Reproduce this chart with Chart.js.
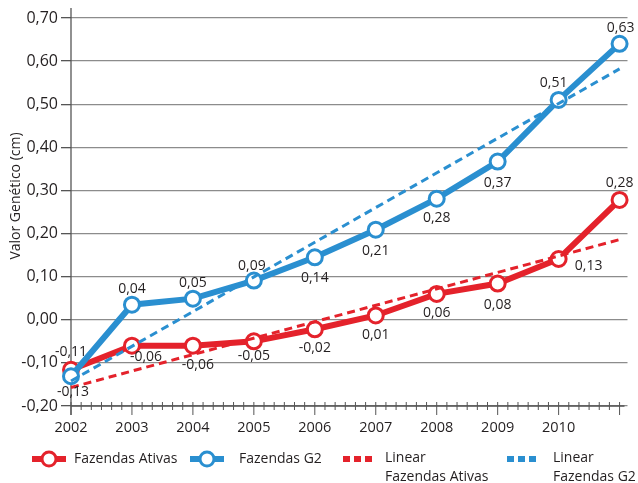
<!DOCTYPE html>
<html lang="pt">
<head>
<meta charset="utf-8">
<title>Valor Genético</title>
<script src="https://cdn.jsdelivr.net/npm/chart.js"></script>
<style>
  html, body { margin: 0; padding: 0; background: #fff; }
  #wrap { width: 638px; height: 483px; }
</style>
</head>
<body>
<div id="wrap"><canvas id="chart" width="638" height="483"></canvas></div>
<script>
// data
const years = ['2002', '2003', '2004', '2005', '2006', '2007', '2008', '2009', '2010', '2011'];
const ativas = [-0.116, -0.060, -0.060, -0.050, -0.022, 0.010, 0.060, 0.084, 0.141, 0.278];
const g2 = [-0.131, 0.035, 0.049, 0.091, 0.145, 0.209, 0.281, 0.367, 0.510, 0.640];
const ativasLabels = ['-0,11', '-0,06', '-0,06', '-0,05', '-0,02', '0,01', '0,06', '0,08', '0,13', '0,28'];
const g2Labels = ['-0,13', '0,04', '0,05', '0,09', '0,14', '0,21', '0,28', '0,37', '0,51', '0,63'];
// trend lines, values at 2002 and 2011
const trendAtivas = [-0.157, 0.186];
const trendG2 = [-0.142, 0.582];

const RED = '#e4222b';
const BLUE = '#2a8fd0';
const TEXT = '#231f20';
const FONT = '"Open Sans", sans-serif';

const pts = arr => arr.map((v, i) => ({ x: i, y: v }));
const ends = arr => [{ x: 0, y: arr[0] }, { x: years.length - 1, y: arr[1] }];

// label offsets (dx, dy) from each point
const ativasOff = [[0,-18],[14,11],[5,19],[0,15],[0,19],[0,20],[0,19],[0,21],[30,7],[0,-17]];
const g2Off = [[2,16],[0,-16],[0,-16],[-2,-15],[0,21],[0,21],[0,19],[0,21],[-5,-17],[1,-16]];

const decor = {
  id: 'decor',
  beforeDatasetsDraw(chart) {
    const ctx = chart.ctx;
    const a = chart.chartArea;
    const xs = chart.scales.x;
    ctx.save();
    ctx.strokeStyle = '#555';
    ctx.lineWidth = 1.3;
    // vertical axis
    ctx.beginPath();
    ctx.moveTo(a.left, a.top - 10);
    ctx.lineTo(a.left, a.bottom + 9);
    ctx.stroke();
    // horizontal axis
    ctx.beginPath();
    ctx.moveTo(a.left, a.bottom);
    ctx.lineTo(a.right - 3, a.bottom);
    ctx.stroke();
    // x ticks, 6 steps per year
    ctx.lineWidth = 1;
    for (let i = 0; i <= (years.length - 1) * 6; i++) {
      const x = xs.getPixelForValue(i / 6);
      const major = i % 6 === 0;
      ctx.beginPath();
      ctx.moveTo(x, a.bottom - 4);
      ctx.lineTo(x, a.bottom + (major ? 9 : 4));
      ctx.stroke();
    }
    ctx.restore();
  },
  afterDatasetsDraw(chart) {
    const ctx = chart.ctx;
    ctx.save();
    ctx.font = '14px ' + FONT;
    ctx.fillStyle = TEXT;
    ctx.textAlign = 'center';
    ctx.textBaseline = 'middle';
    [[0, ativasLabels, ativasOff], [1, g2Labels, g2Off]].forEach(([di, labels, off]) => {
      chart.getDatasetMeta(di).data.forEach((p, i) => {
        ctx.fillText(labels[i], p.x + off[i][0], p.y + off[i][1]);
      });
    });
    ctx.restore();
  },
  afterDraw(chart) {
    const ctx = chart.ctx;
    ctx.save();
    // y axis title
    ctx.translate(16, 196);
    ctx.rotate(-Math.PI / 2);
    ctx.font = '14px ' + FONT;
    ctx.fillStyle = TEXT;
    ctx.textAlign = 'center';
    ctx.textBaseline = 'middle';
    ctx.fillText('Valor Genético (cm)', 0, 0);
    ctx.restore();

    // legend
    const ly = 459;
    ctx.save();
    ctx.font = '14px ' + FONT;
    ctx.fillStyle = TEXT;
    ctx.textBaseline = 'middle';
    ctx.textAlign = 'left';
    const marker = (x0, x1, color) => {
      ctx.strokeStyle = color;
      ctx.lineWidth = 6;
      ctx.beginPath();
      ctx.moveTo(x0, ly);
      ctx.lineTo(x1, ly);
      ctx.stroke();
      ctx.beginPath();
      ctx.arc((x0 + x1) / 2, ly, 7, 0, Math.PI * 2);
      ctx.fillStyle = '#fff';
      ctx.fill();
      ctx.lineWidth = 3;
      ctx.stroke();
      ctx.fillStyle = TEXT;
    };
    const dashes = (x0, color) => {
      ctx.fillStyle = color;
      for (let k = 0; k < 3; k++) ctx.fillRect(x0 + k * 11, ly - 3, 7, 6);
      ctx.fillStyle = TEXT;
    };
    const ds = chart.data.datasets;
    marker(32, 66, RED);
    ctx.fillText(ds[0].label, 74, ly);
    marker(190, 224, BLUE);
    ctx.fillText(ds[1].label, 239, ly);
    dashes(343, RED);
    ctx.fillText('Linear', 385, ly - 1);
    ctx.fillText(ds[0].label, 385, ly + 18);
    dashes(507, BLUE);
    ctx.fillText('Linear', 553, ly - 1);
    ctx.fillText(ds[1].label, 553, ly + 18);
    ctx.restore();
  }
};

new Chart(document.getElementById('chart'), {
  type: 'line',
  data: {
    datasets: [
      {
        label: 'Fazendas Ativas',
        data: pts(ativas),
        borderColor: RED,
        borderWidth: 6,
        pointRadius: 7.5,
        pointBorderWidth: 3,
        pointBackgroundColor: '#fff',
        pointBorderColor: RED,
        clip: false,
        order: 4
      },
      {
        label: 'Fazendas G2',
        data: pts(g2),
        borderColor: BLUE,
        borderWidth: 6,
        pointRadius: 7.5,
        pointBorderWidth: 3,
        pointBackgroundColor: '#fff',
        pointBorderColor: BLUE,
        clip: false,
        order: 3
      },
      {
        label: 'Linear Fazendas Ativas',
        data: ends(trendAtivas),
        borderColor: RED,
        borderWidth: 3,
        borderDash: [8, 5],
        pointRadius: 0,
        clip: false,
        order: 2
      },
      {
        label: 'Linear Fazendas G2',
        data: ends(trendG2),
        borderColor: BLUE,
        borderWidth: 3,
        borderDash: [8, 5],
        pointRadius: 0,
        clip: false,
        order: 1
      }
    ]
  },
  options: {
    responsive: false,
    animation: false,
    layout: { padding: { left: 0, right: 10, top: 18, bottom: 47 } },
    plugins: { legend: { display: false }, tooltip: { enabled: false } },
    scales: {
      x: {
        type: 'linear',
        min: 0,
        max: 9.13,
        grid: { display: false },
        border: { display: false },
        ticks: {
          stepSize: 1,
          padding: 5,
          color: TEXT,
          font: { family: FONT, size: 14.5 },
          maxRotation: 0,
          callback: v => years[v]
        },
        afterFit: s => { s.height = 30; s.paddingLeft = 0; s.paddingRight = 0; }
      },
      y: {
        min: -0.2,
        max: 0.7,
        grid: { color: '#8c8c8c', lineWidth: 1.3, tickLength: 10, tickColor: '#555' },
        border: { display: false },
        ticks: {
          stepSize: 0.1,
          padding: 3,
          color: TEXT,
          font: { family: FONT, size: 16 },
          callback: v => (Math.round(v * 100) / 100 + 0).toFixed(2).replace('.', ',')
        },
        afterFit: s => { s.width = 71; s.paddingTop = 0; s.paddingBottom = 0; }
      }
    }
  },
  plugins: [decor]
});
</script>
</body>
</html>
